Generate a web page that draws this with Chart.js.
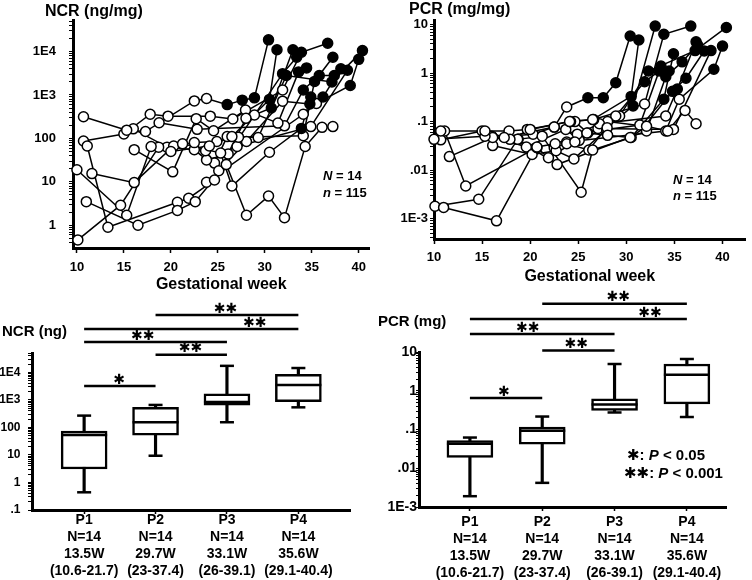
<!DOCTYPE html>
<html><head><meta charset="utf-8">
<script src="https://cdn.jsdelivr.net/npm/chart.js@4/dist/chart.umd.min.js"></script>
<style>
html,body{margin:0;padding:0;background:#fff;width:752px;height:580px;overflow:hidden}
canvas{position:absolute}
</style></head><body>
<canvas id="c1" width="376" height="290" style="left:0;top:0"></canvas>
<canvas id="c2" width="376" height="290" style="left:376px;top:0"></canvas>
<canvas id="c3" width="376" height="290" style="left:0;top:290px"></canvas>
<canvas id="c4" width="376" height="290" style="left:376px;top:290px"></canvas>
<script>
// ---------- data: 14 patients, serial samples ----------
const weeks = [
  [10.7,15.3,17.3,22.5,23.8,26.0,27.6,28.9,30.4],
  [10.0,15.3,17.9,20.0,24.1,26.5,30.5,31.3],
  [11.0,16.5,20.7,22.6,25.9,28.05,30.4,32.1,34.3,36.1,37.25],
  [10.1,14.65,18.7,21.25,25.3,26.5,30.5,33.9,34.9],
  [11.1,13.3,20.7,21.9,24.65,28.0,30.7,33.0],
  [10.7,15.0,17.8,19.7,24.2,26.6,31.9,33.9,36.7],
  [11.6,16.1,20.3,22.5,24.9,27.2,34.1,35.3,37.25],
  [16.1,20.2,22.7,24.55,27.95,31.4,33.6,34.45],
  [18.75,22.8,32.1,34.1,35.8,37.4],
  [16.0,19.6,23.7,25.1,28.05,31.9,34.8,36.2,38.1],
  [22.5,23.8,26.1,28.9,31.9,33.4],
  [24.65,26.0,29.3,32.3,37.15,40.4],
  [23.8,34.1,35.5,39.1,40.0],
  [27.05,34.9,38.8]
];
const ncr = [
  [316,155,144,730,830,600,760,860,18600],
  [19,1.7,65,50,67,110,790,11000],
  [3.5,1.0,2.2,3.5,25,1.7,4.7,1.5,65,180,187],
  [0.46,2.9,63,75,46,8,48,170,900],
  [67,0.9,3.4,4.2,11,290,500,11000],
  [87,126,360,325,325,280,1300,9600,15500],
  [15.5,9.6,67,80,85,107,115,2050,7400],
  [55,17,285,150,450,225,3400,4200],
  [230,162,195,1300,2800,2800],
  [166,63,52,18,85,720,620,900,4000],
  [55,32,44,345,3100,7400],
  [27,110,105,2800,2000,10500],
  [9.8,360,640,1650,6600],
  [65,187,3700]
];
const pcr = [
  [0.064,0.064,0.047,0.077,0.2,0.31,0.31,0.63,5.8],
  [0.043,0.05,0.043,0.069,0.1,0.11,0.33,4.8],
  [0.0017,0.0009,0.03,0.035,0.058,0.052,0.047,0.08,0.064,0.17,0.09],
  [0.0018,0.0025,0.043,0.05,0.0035,0.026,0.047,0.29,2.5],
  [0.064,0.0047,0.029,0.018,0.038,0.075,0.21,9.3],
  [0.042,0.064,0.064,0.069,0.1,0.11,0.23,6.3,9.3],
  [0.019,0.047,0.055,0.077,0.055,0.09,0.13,0.47,4.4],
  [0.032,0.021,0.025,0.017,0.069,0.085,1.4,1.1],
  [0.043,0.013,0.064,0.84,1.7,3.8],
  [0.05,0.03,0.069,0.041,0.1,0.08,0.42,0.78,2.85],
  [0.029,0.035,0.026,0.13,0.66,1.1],
  [0.1,0.058,0.13,1.1,2.9,8.7],
  [0.038,0.064,0.29,1.2,3.6],
  [0.072,0.069,2.9]
];
// number of leading open-circle visits per patient (rest are filled)
const openVisits = [5,6,11,7,6,7,7,6,3,6,4,3,3,2];

const weekTicks = [10,15,20,25,30,35,40];
const ncrTickValues = [1,10,100,1000,10000];
const ncrTickLabels = ['1','10','100','1E3','1E4'];
const pcrTickValues = [0.001,0.01,0.1,1,10];
const pcrTickLabels = ['1E-3','.01','.1','1','10'];
const ncrBoxTickValues = [0.1,1,10,100,1000,10000];
const ncrBoxTickLabels = ['.1','1','10','100','1E3','1E4'];

// ---------- box plots ----------
const groups = ['P1','P2','P3','P4'];
const groupN = ['N=14','N=14','N=14','N=14'];
const groupWeek = ['13.5W','29.7W','33.1W','35.6W'];
const groupRange = ['(10.6-21.7)','(23-37.4)','(26-39.1)','(29.1-40.4)'];

const ncrBoxMin = [0.44, 9.4, 155, 540];
const ncrBoxQ1  = [3.1, 53, 650, 870];
const ncrBoxMed = [53, 155, 850, 3500];
const ncrBoxQ3  = [74, 540, 1660, 8500];
const ncrBoxMax = [270, 660, 17400, 14500];

const pcrBoxMin = [0.0019, 0.0042, 0.275, 0.21];
const pcrBoxQ1  = [0.019, 0.042, 0.31, 0.46];
const pcrBoxMed = [0.043, 0.093, 0.44, 2.57];
const pcrBoxQ3  = [0.052, 0.115, 0.62, 4.9];
const pcrBoxMax = [0.062, 0.216, 4.9, 6.6];

// significance brackets
const sigFrom = [1,0,0,1,0];
const sigTo   = [3,3,2,2,1];
const sigMarks = ['\u2731\u2731','\u2731\u2731','\u2731\u2731','\u2731\u2731','\u2731'];
const ncrSigLevel = [1.23e6, 3.8e5, 1.29e5, 4.4e4, 3200];
const pcrSigLevel = [175, 71, 29, 11, 0.65];
const ncrSigMarkAt = [1.98, 2.39, 0.82, 1.49, 0.49];
const pcrSigMarkAt = [2.05, 2.49, 0.80, 1.47, 0.47];

// ---------- rendering ----------
const FONT = '"Liberation Sans", Arial, Helvetica, sans-serif';
const STAR = '"DejaVu Sans", sans-serif';
Chart.defaults.font.family = FONT;
Chart.defaults.font.weight = 'bold';
Chart.defaults.color = '#000';

function logTicks(min, max) {
  const out = [];
  for (let e = -5; e <= 7; e++) for (let m = 1; m <= 9; m++) {
    const v = m * Math.pow(10, e);
    if (v >= min * 0.9999 && v <= max * 1.0001) out.push(v);
  }
  return out;
}
function labelFor(vals, labels) {
  return v => { const i = vals.findIndex(t => Math.abs(t - v) < t * 1e-6); return i < 0 ? '' : labels[i]; };
}
function drawParts(ctx, parts, x, y, size) {
  let cx = x;
  parts.forEach(p => {
    ctx.font = (p.i ? 'italic ' : '') + 'bold ' + size + 'px ' + (p.f || FONT);
    ctx.fillText(p.t, cx, y);
    cx += ctx.measureText(p.t).width;
  });
}
const annot = {
  id: 'annot',
  afterDraw(chart, args, opts) {
    const ctx = chart.ctx;
    ctx.save();
    ctx.fillStyle = '#000';
    ctx.textBaseline = 'middle';
    ctx.textAlign = 'left';
    (opts.texts || []).forEach(t => drawParts(ctx, t.parts, t.x, t.y, t.size));
    if (opts.marks) {
      ctx.textAlign = 'center';
      ctx.font = 'bold ' + opts.markSize + 'px ' + STAR;
      opts.marks.forEach(m => {
        ctx.fillText(m.t, chart.scales.x.getPixelForValue(m.xv), chart.scales.y.getPixelForValue(m.yv) - opts.markLift);
      });
    }
    ctx.restore();
  }
};
Chart.register(annot);

function yLogAxis(min, max, vals, labels, width, size, pad, tl) {
  return {
    type: 'logarithmic', min, max,
    afterBuildTicks: s => { s.ticks = logTicks(min, max).map(v => ({ value: v })); },
    afterFit: s => { s.width = width; },
    ticks: { callback: labelFor(vals, labels), font: { size, weight: 'bold' }, padding: pad, autoSkip: false, maxRotation: 0, color: '#000' },
    grid: { display: true, drawOnChartArea: false, drawTicks: true, tickLength: tl, tickColor: '#000', tickWidth: 1 },
    border: { display: true, color: '#000', width: 3 }
  };
}

function trajChart(id, values, o) {
  const pts = weeks.map((w, i) => w.map((x, j) => ({ x, y: values[i][j] })));
  const lineSets = pts.map(d => ({ type: 'line', data: d, showLine: true, borderColor: '#000', borderWidth: 1.5, pointRadius: 0, fill: false, order: 2, clip: false }));
  const pointSets = pts.map((d, i) => ({
    type: 'line', data: d, showLine: false, pointRadius: 5, pointBorderWidth: 1.5,
    pointBorderColor: '#000', pointBackgroundColor: d.map((_, j) => j < openVisits[i] ? '#fff' : '#000'),
    order: 1, clip: false
  }));
  new Chart(document.getElementById(id), {
    type: 'scatter',
    data: { datasets: [...lineSets, ...pointSets] },
    options: {
      responsive: false, animation: false, devicePixelRatio: 1, events: [],
      layout: { padding: { top: o.top, right: o.right, left: 0, bottom: 0 } },
      plugins: { legend: { display: false }, tooltip: { enabled: false }, annot: { texts: o.texts } },
      scales: {
        x: {
          type: 'linear', min: o.xmin, max: o.xmax, offset: false,
          afterBuildTicks: s => { s.ticks = weekTicks.map(v => ({ value: v })); },
          afterFit: s => { s.height = o.xh; },
          ticks: { font: { size: 13, weight: 'bold' }, padding: o.xpad, autoSkip: false, maxRotation: 0, color: '#000' },
          grid: { display: true, drawOnChartArea: false, drawTicks: true, tickLength: 5, tickColor: '#000', tickWidth: 1.5 },
          border: { display: true, color: '#000', width: 3 },
          title: { display: true, text: 'Gestational week', font: { size: 16, weight: 'bold', lineHeight: 1 }, padding: { top: 0, bottom: o.tpad }, color: '#000' }
        },
        y: yLogAxis(o.ymin, o.ymax, o.tv, o.tl, o.yw, 13, o.ypad, 4)
      }
    }
  });
}

function boxChart(id, mn, q1, md, q3, mx, sigLevel, sigAt, o) {
  const ds = [];
  ds.push({ type: 'bar', data: groups.map((_, i) => ({ x: i, y: [mn[i], mx[i]] })), backgroundColor: '#000', borderWidth: 0, barThickness: 2.5, grouped: false, order: 4 });
  ds.push({ type: 'bar', data: groups.map((_, i) => ({ x: i, y: [q1[i], q3[i]] })), backgroundColor: '#fff', borderColor: '#000', borderWidth: 2.5, borderSkipped: false, barThickness: 46, grouped: false, order: 3 });
  ds.push({ type: 'line', showLine: false, data: groups.map((_, i) => ({ x: i, y: md[i] })), pointStyle: 'line', pointRadius: 23, pointBorderWidth: 2.5, pointBorderColor: '#000', order: 2, clip: false });
  ds.push({ type: 'line', showLine: false, data: groups.flatMap((_, i) => [{ x: i, y: mn[i] }, { x: i, y: mx[i] }]), pointStyle: 'line', pointRadius: 7, pointBorderWidth: 2.5, pointBorderColor: '#000', order: 2, clip: false });
  sigFrom.forEach((a, k) => ds.push({ type: 'line', data: [{ x: a, y: sigLevel[k] }, { x: sigTo[k], y: sigLevel[k] }], borderColor: '#000', borderWidth: 2.5, pointRadius: 0, fill: false, clip: false, order: 1 }));
  const marks = sigMarks.map((t, k) => ({ t, xv: sigAt[k], yv: sigLevel[k] }));
  new Chart(document.getElementById(id), {
    type: 'bar',
    data: { datasets: ds },
    options: {
      responsive: false, animation: false, devicePixelRatio: 1, events: [],
      layout: { padding: { top: o.top, right: o.right, left: 0, bottom: 0 } },
      plugins: { legend: { display: false }, tooltip: { enabled: false },
        annot: { texts: o.texts, marks, markSize: 14, markLift: 6 } },
      scales: {
        x: {
          type: 'linear', min: o.xmin, max: o.xmax, offset: false,
          afterBuildTicks: s => { s.ticks = groups.map((_, i) => ({ value: i })); },
          afterFit: s => { s.height = o.xh; },
          ticks: { callback: v => { const i = Math.round(v); return [groups[i], groupN[i], groupWeek[i], groupRange[i]]; },
            font: { size: 14, weight: 'bold', lineHeight: 17 / 14 }, padding: o.xpad, autoSkip: false, maxRotation: 0, color: '#000' },
          grid: { display: true, offset: false, drawOnChartArea: false, drawTicks: true, tickLength: 4, tickColor: '#000', tickWidth: 1.5 },
          border: { display: true, color: '#000', width: 3 }
        },
        y: yLogAxis(o.ymin, o.ymax, o.tv, o.tl, o.yw, o.ysize, o.ypad, o.ytl)
      }
    }
  });
}

trajChart('c1', ncr, {
  top: 20, right: 0, xmin: 9.583, xmax: 41.15, xh: 42, xpad: 7, tpad: -3,
  ymin: 0.31, ymax: 51000, tv: ncrTickValues, tl: ncrTickLabels, yw: 73, ypad: 13,
  texts: [
    { parts: [{ t: 'NCR (ng/mg)' }], x: 45, y: 12, size: 16 },
    { parts: [{ t: 'N', i: true }, { t: ' = 14' }], x: 323, y: 176, size: 13 },
    { parts: [{ t: 'n', i: true }, { t: ' = 115' }], x: 323, y: 193, size: 13 }
  ]
});
trajChart('c2', pcr, {
  top: 20, right: 6, xmin: 10, xmax: 42.39, xh: 51, xpad: 6, tpad: 5,
  ymin: 0.00038, ymax: 12.4, tv: pcrTickValues, tl: pcrTickLabels, yw: 58, ypad: 2,
  texts: [
    { parts: [{ t: 'PCR (mg/mg)' }], x: 33, y: 10, size: 16 },
    { parts: [{ t: 'N', i: true }, { t: ' = 14' }], x: 297, y: 180, size: 13 },
    { parts: [{ t: 'n', i: true }, { t: ' = 115' }], x: 297, y: 196, size: 13 }
  ]
});
boxChart('c3', ncrBoxMin, ncrBoxQ1, ncrBoxMed, ncrBoxQ3, ncrBoxMax, ncrSigLevel, ncrSigMarkAt, {
  top: 63, right: 8, xmin: -0.73, xmax: 3.73, xh: 70, xpad: -2.5,
  ymin: 0.1, ymax: 51000, tv: ncrBoxTickValues, tl: ncrBoxTickLabels, yw: 32, ysize: 12, ypad: 7.5, ytl: 4,
  texts: [ { parts: [{ t: 'NCR (ng)' }], x: 2, y: 42, size: 15 } ]
});
boxChart('c4', pcrBoxMin, pcrBoxQ1, pcrBoxMed, pcrBoxQ3, pcrBoxMax, pcrSigLevel, pcrSigMarkAt, {
  top: 62, right: 7, xmin: -0.704, xmax: 3.548, xh: 73, xpad: 2.8,
  ymin: 0.001, ymax: 10, tv: pcrTickValues, tl: pcrTickLabels, yw: 43, ysize: 14, ypad: -1, ytl: 3,
  texts: [
    { parts: [{ t: 'PCR (mg)' }], x: 2, y: 32, size: 15 },
    { parts: [{ t: '\u2731', f: STAR }, { t: ': ' }, { t: 'P', i: true }, { t: ' < 0.05' }], x: 251, y: 166, size: 15 },
    { parts: [{ t: '\u2731\u2731', f: STAR }, { t: ': ' }, { t: 'P', i: true }, { t: ' < 0.001' }], x: 248, y: 184, size: 15 }
  ]
});
</script>
</body></html>
